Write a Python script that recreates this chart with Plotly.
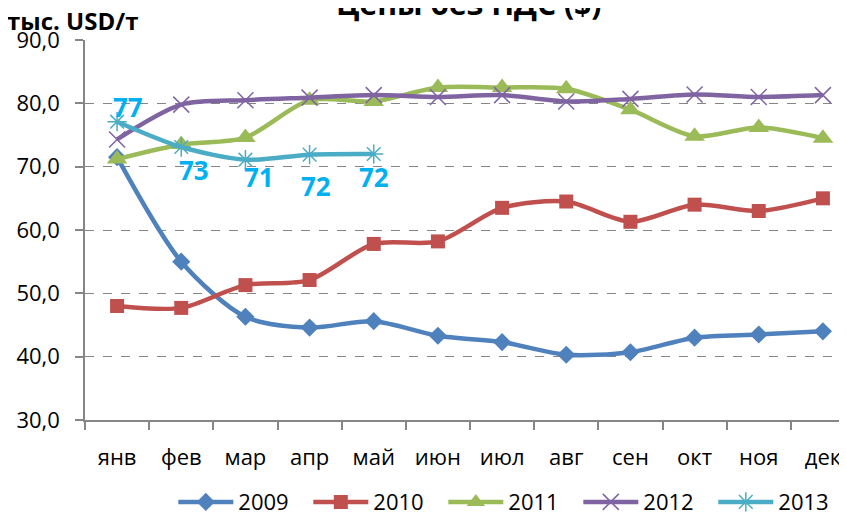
import plotly.graph_objects as go

months = ["янв", "фев", "мар", "апр", "май", "июн", "июл", "авг", "сен", "окт", "ноя", "дек"]
y2009 = [71.5, 55.0, 46.3, 44.6, 45.6, 43.3, 42.3, 40.3, 40.7, 43.0, 43.5, 44.0]
y2010 = [48.0, 47.7, 51.3, 52.1, 57.8, 58.2, 63.5, 64.5, 61.3, 64.0, 63.0, 65.0]
y2011 = [71.2, 73.5, 74.6, 80.5, 80.3, 82.5, 82.5, 82.3, 79.0, 74.8, 76.2, 74.5]
y2012 = [74.3, 79.8, 80.5, 80.9, 81.3, 81.0, 81.3, 80.3, 80.7, 81.4, 81.0, 81.3]
y2013 = [77.1, 73.1, 71.1, 71.9, 72.0]
labels2013 = ["77", "73", "71", "72", "72"]
label_dx = [11, 13, 14, 6, 0]
label_dy = [15, -23, -17, -31, -23]

FONT = "'Open Sans', sans-serif"

series = [
    ("2009", y2009, "#4F81BD", dict(symbol="diamond", size=14, color="#4F81BD")),
    ("2010", y2010, "#C0504D", dict(symbol="square", size=14, color="#C0504D")),
    ("2011", y2011, "#9BBB59", dict(symbol="triangle-up", size=18, color="#9BBB59")),
    ("2012", y2012, "#8064A2", dict(symbol="x-thin", size=16, color="#8064A2",
                                     line=dict(color="#8064A2", width=1.5))),
    ("2013", y2013, "#4BACC6", dict(symbol="asterisk", size=16, color="#4BACC6",
                                     line=dict(color="#4BACC6", width=1.5))),
]

fig = go.Figure()
for name, ys, col, mk in series:
    fig.add_trace(go.Scatter(
        x=months[:len(ys)], y=ys, name=name, mode="lines+markers",
        line=dict(color=col, width=4.5, shape="spline", smoothing=0.8),
        marker=mk,
    ))

for i, (v, t) in enumerate(zip(y2013, labels2013)):
    fig.add_annotation(x=months[i], y=v, text="<b>%s</b>" % t, showarrow=False,
                       xshift=label_dx[i], yshift=label_dy[i],
                       font=dict(family=FONT, size=26, color="#00B0F0"))

fig.add_annotation(x=0.5, y=1, xref="paper", yref="paper", yanchor="bottom",
                   text="<b>Цены без НДС ($)</b>", showarrow=False, xshift=-2, yshift=14,
                   font=dict(family=FONT, size=30, color="black"))
fig.add_annotation(x=0, y=1, xref="paper", yref="paper", xanchor="left", yanchor="bottom",
                   text="<b>тыс. USD/т</b>", showarrow=False, xshift=-80, yshift=1,
                   font=dict(family=FONT, size=24, color="black"))

fig.update_layout(
    width=847, height=512,
    margin=dict(l=77, r=0, t=32, b=100),
    paper_bgcolor="white", plot_bgcolor="white",
    separators=", ",
    font=dict(family=FONT, size=22, color="black"),
    showlegend=True,
    legend=dict(orientation="h", x=0.553, xanchor="center", yref="container", y=0.035,
                yanchor="middle", font=dict(size=22), itemwidth=55, entrywidth=65,
                entrywidthmode="pixels", tracegroupgap=0),
    xaxis=dict(type="category", range=[-0.5, 11.5], showline=True, linecolor="#868686",
               linewidth=1.5, ticks="outside", tickson="boundaries", ticklen=8,
               tickcolor="#868686", tickwidth=1.5, showgrid=False, zeroline=False,
               automargin=False, ticklabelstandoff=17),
    yaxis=dict(range=[30, 90], dtick=10, tickformat=".1f", showline=True,
               linecolor="#868686", linewidth=1.5, ticks="outside", ticklen=8,
               tickcolor="#868686", tickwidth=1.5, showgrid=True, gridcolor="#868686",
               griddash="dash", gridwidth=1.2, zeroline=False, automargin=False,
               ticklabelstandoff=11),
)

fig.write_html("out.html")
